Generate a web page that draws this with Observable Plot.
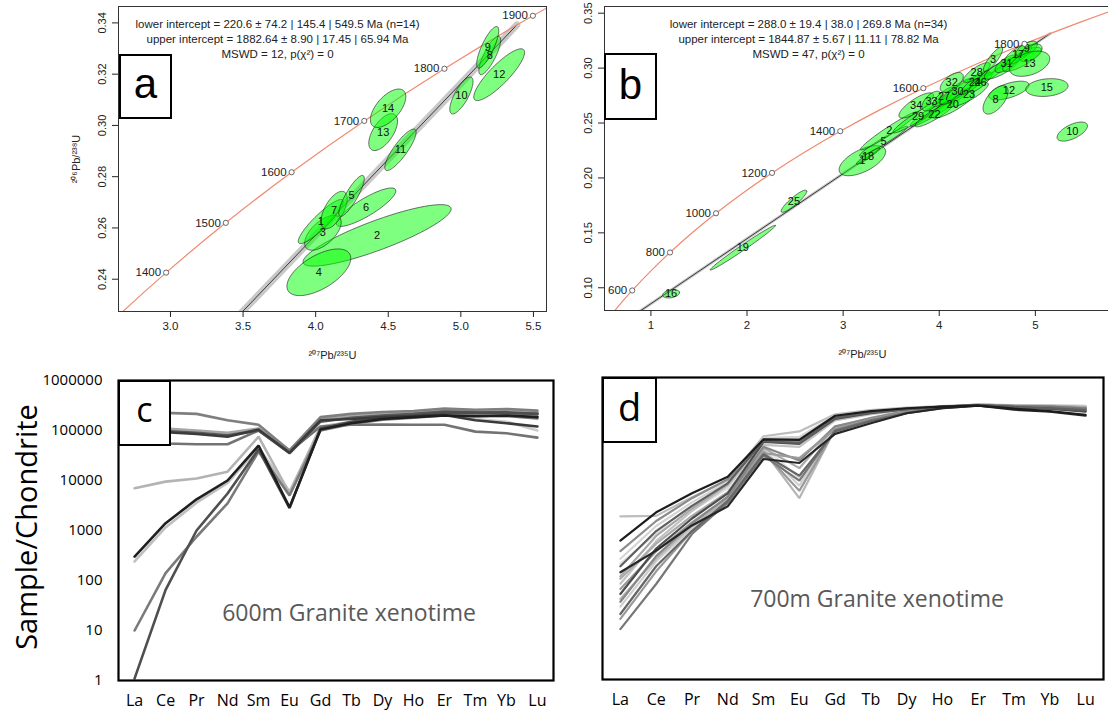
<!DOCTYPE html>
<html><head><meta charset="utf-8">
<script src="https://cdn.jsdelivr.net/npm/d3@7"></script>
<script src="https://cdn.jsdelivr.net/npm/@observablehq/plot@0.6"></script>
<style>
html,body{margin:0;padding:0;background:#fff;width:1108px;height:717px;overflow:hidden;position:relative;}
.panel{position:absolute;overflow:hidden;}
.panel svg{max-width:none !important;}
.tag{position:absolute;box-sizing:border-box;border:2.5px solid #000;background:#fff;display:flex;align-items:center;justify-content:center;color:#000;line-height:1;}
.note{position:absolute;color:#595959;font-family:"Open Sans",sans-serif;font-size:23px;white-space:nowrap;transform:translate(-50%,-50%);}
</style></head><body>
<div id="pa" class="panel" style="left:0;top:0;width:560px;height:368px"></div>
<div id="pb" class="panel" style="left:560px;top:0;width:560px;height:368px"></div>
<div id="pc" class="panel" style="left:0;top:370px;width:560px;height:347px"></div>
<div id="pd" class="panel" style="left:560px;top:370px;width:548px;height:347px"></div>
<div class="tag" style="left:119px;top:54px;width:53px;height:65px;font-family:'Liberation Sans',Arial,sans-serif;font-size:42px;padding-bottom:6px">a</div>
<div class="tag" style="left:604px;top:53px;width:53px;height:67px;font-family:'Liberation Sans',Arial,sans-serif;font-size:42px;padding-bottom:4px">b</div>
<div class="tag" style="left:118px;top:380px;width:53px;height:66px;font-family:'Open Sans',sans-serif;font-size:34px;padding-bottom:8px">c</div>
<div class="tag" style="left:602px;top:377px;width:55px;height:66px;font-family:'Open Sans',sans-serif;font-size:38px;padding-bottom:8px">d</div>
<div class="note" style="left:349px;top:612px">600m Granite xenotime</div>
<div class="note" style="left:877px;top:598px">700m Granite xenotime</div>
<div style="position:absolute;left:25px;top:527px;transform:translate(-50%,-50%) rotate(-90deg);font-family:'Open Sans',sans-serif;font-size:29px;white-space:nowrap;color:#000">Sample/Chondrite</div>
<script>
// ---------- Concordia (U-Pb) data ----------
const concAge = [300, 400, 500, 600, 700, 800, 900, 1000, 1100, 1200, 1300, 1400, 1500, 1600, 1700, 1800, 1900, 2000];
const concX = [0.3437, 0.4828, 0.6363, 0.8056, 0.9925, 1.1987, 1.4263, 1.6774, 1.9545, 2.2603, 2.5977, 2.9701, 3.3810, 3.8343, 4.3348, 4.8869, 5.4962, 6.1685];
const concY = [0.04764, 0.06402, 0.08065, 0.09754, 0.11470, 0.13213, 0.14983, 0.16782, 0.18608, 0.20460, 0.22344, 0.24257, 0.26200, 0.28173, 0.30176, 0.32211, 0.34278, 0.36376];
const aAgeMarks = [1400, 1500, 1600, 1700, 1800, 1900];
const bAgeMarks = [600, 800, 1000, 1200, 1400, 1600, 1800];

// discordia end points (lower and upper intercepts)
const aDiscX = [0.2427, 5.386];
const aDiscY = [0.0348, 0.3392];
const bDiscX = [0.328, 5.153];
const bDiscY = [0.0457, 0.3314];

const aXTicks = [3.0, 3.5, 4.0, 4.5, 5.0, 5.5];
const aYTicks = [0.24, 0.26, 0.28, 0.30, 0.32, 0.34];
const bXTicks = [1, 2, 3, 4, 5];
const bYTicks = [0.10, 0.15, 0.20, 0.25, 0.30, 0.35];

const aNote = "lower intercept = 220.6 ± 74.2 | 145.4 | 549.5 Ma (n=14)\nupper intercept = 1882.64 ± 8.90 | 17.45 | 65.94 Ma\nMSWD = 12, p(χ²) = 0";
const bNote = "lower intercept = 288.0 ± 19.4 | 38.0 | 269.8 Ma (n=34)\nupper intercept = 1844.87 ± 5.67 | 11.11 | 78.82 Ma\nMSWD = 47, p(χ²) = 0";

// error ellipses: [label, 207Pb/235U, 206Pb/238U, sx, sy, rho]
const aEllipses = [
  [2, 4.423, 0.2571, 0.51, 0.0120, 0.86],
  [4, 4.022, 0.2427, 0.22, 0.0091, 0.6],
  [6, 4.347, 0.2681, 0.205, 0.0075, 0.85],
  [3, 4.050, 0.2581, 0.126, 0.0068, 0.6],
  [1, 4.035, 0.2625, 0.155, 0.0086, 0.9],
  [7, 4.127, 0.2670, 0.090, 0.0073, 0.6],
  [5, 4.247, 0.2725, 0.088, 0.0080, 0.85],
  [11, 4.584, 0.2905, 0.108, 0.0081, 0.85],
  [13, 4.465, 0.2974, 0.099, 0.0072, 0.6],
  [14, 4.499, 0.3067, 0.122, 0.0075, 0.6],
  [10, 5.004, 0.3117, 0.080, 0.0072, 0.75],
  [12, 5.264, 0.3198, 0.175, 0.0101, 0.86],
  [8, 5.199, 0.3273, 0.075, 0.0075, 0.8],
  [9, 5.185, 0.3305, 0.076, 0.0081, 0.8]
];
const bEllipses = [
  [16, 1.21, 0.0945, 0.088, 0.0038, 0.3],
  [19, 1.956, 0.1365, 0.34, 0.0204, 0.99],
  [25, 2.488, 0.1788, 0.133, 0.0101, 0.9],
  [1, 3.20, 0.2157, 0.242, 0.0137, 0.6],
  [18, 3.26, 0.2200, 0.12, 0.0075, 0.95],
  [5, 3.42, 0.2335, 0.25, 0.0135, 0.97],
  [2, 3.48, 0.2430, 0.30, 0.0175, 0.97],
  [4, 4.00, 0.2640, 0.30, 0.0170, 0.95],
  [29, 3.78, 0.2560, 0.26, 0.0150, 0.95],
  [22, 3.95, 0.2575, 0.20, 0.0110, 0.9],
  [34, 3.76, 0.2660, 0.18, 0.0115, 0.8],
  [33, 3.92, 0.2700, 0.10, 0.0090, 0.6],
  [27, 4.05, 0.2740, 0.12, 0.0090, 0.8],
  [20, 4.14, 0.2665, 0.22, 0.0120, 0.85],
  [21, 4.25, 0.2820, 0.25, 0.0150, 0.95],
  [30, 4.19, 0.2790, 0.18, 0.0120, 0.85],
  [32, 4.13, 0.2870, 0.12, 0.0090, 0.6],
  [23, 4.31, 0.2760, 0.20, 0.0110, 0.85],
  [24, 4.37, 0.2870, 0.15, 0.0110, 0.9],
  [26, 4.43, 0.2870, 0.12, 0.0090, 0.85],
  [28, 4.39, 0.2960, 0.14, 0.0090, 0.8],
  [6, 4.55, 0.2960, 0.15, 0.0090, 0.85],
  [11, 4.65, 0.3000, 0.18, 0.0100, 0.8],
  [3, 4.56, 0.3080, 0.10, 0.0110, 0.85],
  [31, 4.70, 0.3040, 0.12, 0.0080, 0.7],
  [7, 4.86, 0.3080, 0.20, 0.0110, 0.8],
  [17, 4.82, 0.3125, 0.14, 0.0090, 0.7],
  [9, 4.91, 0.3175, 0.11, 0.0070, 0.6],
  [14, 4.95, 0.3140, 0.12, 0.0080, 0.5],
  [13, 4.94, 0.3040, 0.21, 0.0115, 0.4],
  [12, 4.725, 0.2796, 0.21, 0.0085, 0.6],
  [8, 4.586, 0.2711, 0.13, 0.0130, 0.6],
  [15, 5.12, 0.2823, 0.22, 0.0081, 0.2],
  [10, 5.384, 0.2422, 0.158, 0.0087, 0.6]
];
// labels buried under other ellipses in the reference
const bHiddenLabels = [4, 6, 7, 11, 14, 21];

// ---------- REE chondrite-normalised data ----------
const ree = ["La", "Ce", "Pr", "Nd", "Sm", "Eu", "Gd", "Tb", "Dy", "Ho", "Er", "Tm", "Yb", "Lu"];
const reeYTicks = [1, 10, 100, 1000, 10000, 100000, 1000000];

// 600m granite xenotime
const c01 = [230000, 225000, 215000, 160000, 130000, 40000, 185000, 215000, 235000, 245000, 275000, 260000, 270000, 250000];
const c02 = [115000, 110000, 100000, 90000, 110000, 40000, 170000, 190000, 210000, 220000, 250000, 240000, 245000, 230000];
const c03 = [100000, 92000, 85000, 75000, 105000, 36000, 160000, 170000, 185000, 195000, 205000, 160000, 140000, 120000];
const c04 = [63000, 55000, 53000, 53000, 100000, 38000, 120000, 130000, 132000, 130000, 130000, 95000, 88000, 72000];
const c05 = [110000, 105000, 95000, 85000, 108000, 37000, 175000, 195000, 215000, 225000, 240000, 170000, 150000, 100000];
const c06 = [105000, 98000, 90000, 80000, 100000, 35000, 150000, 180000, 200000, 215000, 240000, 230000, 225000, 215000];
const c07 = [7000, 9500, 11000, 15000, 75000, 5500, 120000, 150000, 180000, 195000, 215000, 200000, 210000, 190000];
const c08 = [300, 1400, 4200, 10000, 50000, 2900, 105000, 140000, 170000, 185000, 200000, 195000, 200000, 185000];
const c09 = [240, 1150, 3600, 9000, 45000, 6000, 110000, 145000, 175000, 190000, 210000, 205000, 205000, 195000];
const c10 = [10, 140, 750, 3500, 38000, 5000, 100000, 135000, 165000, 180000, 200000, 190000, 195000, 175000];
const c11 = [1.1, 65, 1000, 5500, 42000, 2800, 110000, 150000, 185000, 200000, 230000, 225000, 230000, 215000];
const cSeries = [c05, c02, c09, c07, c04, c01, c10, c06, c11, c03, c08];
const cShades = ["#cccccc", "#a6a6a6", "#c0c0c0", "#b3b3b3", "#737373", "#7f7f7f", "#7a7a7a", "#595959", "#4f4f4f", "#3b3b3b", "#1f1f1f"];

// 700m granite xenotime
const d01 = [575, 2100, 5000, 10700, 59000, 57500, 174000, 214000, 245000, 263000, 275000, 240000, 214000, 182000];
const d02 = [1740, 1780, 4200, 9100, 68000, 85000, 186000, 224000, 251000, 269000, 282000, 269000, 263000, 251000];
const d03 = [355, 1410, 4000, 9500, 56000, 52500, 166000, 204000, 240000, 263000, 282000, 263000, 257000, 240000];
const d04 = [250, 1120, 3300, 8500, 63000, 66000, 178000, 214000, 245000, 269000, 288000, 275000, 275000, 263000];
const d05 = [178, 890, 2820, 7900, 55000, 50000, 158000, 200000, 234000, 263000, 282000, 257000, 245000, 224000];
const d06 = [112, 710, 2500, 7600, 60000, 59000, 170000, 209000, 240000, 263000, 282000, 275000, 269000, 257000];
const d07 = [135, 363, 1150, 2750, 24000, 20000, 76000, 123000, 195000, 245000, 275000, 229000, 209000, 174000];
const d08 = [10, 79, 776, 3300, 28000, 8900, 89000, 141000, 200000, 251000, 282000, 269000, 263000, 240000];
const d09 = [40, 250, 1120, 3800, 35500, 4000, 95000, 148000, 209000, 257000, 288000, 275000, 275000, 263000];
const d10 = [63, 355, 1320, 4200, 33000, 5600, 91000, 145000, 204000, 251000, 282000, 263000, 257000, 234000];
const d11 = [28, 224, 1000, 3550, 38000, 7100, 100000, 151000, 214000, 257000, 288000, 282000, 282000, 269000];
const d12 = [20, 178, 890, 3550, 30000, 11200, 85000, 135000, 195000, 245000, 275000, 251000, 240000, 214000];
const d13 = [100, 500, 1780, 5250, 40000, 15800, 105000, 158000, 219000, 263000, 288000, 275000, 269000, 251000];
const d14 = [35, 282, 1260, 4300, 42000, 22400, 107000, 155000, 214000, 257000, 282000, 269000, 263000, 245000];
const d15 = [200, 794, 2240, 6300, 42000, 10000, 100000, 151000, 214000, 263000, 288000, 282000, 282000, 275000];
const d16 = [50, 400, 1580, 5000, 52500, 48000, 151000, 195000, 234000, 263000, 282000, 257000, 240000, 209000];
const d17 = [80, 560, 2240, 7100, 46000, 42000, 141000, 186000, 229000, 263000, 288000, 275000, 269000, 251000];
const d18 = [16, 141, 890, 3160, 31600, 25000, 95000, 148000, 209000, 257000, 282000, 269000, 263000, 240000];
const dSeries = [d02, d04, d11, d15, d09, d17, d06, d13, d03, d10, d14, d18, d08, d12, d16, d05, d07, d01];
const dShades = ["#bdbdbd", "#d4d4d4", "#cfcfcf", "#e0e0e0", "#b5b5b5", "#c2c2c2", "#a8a8a8", "#aaaaaa", "#8c8c8c", "#999999", "#888888", "#9a9a9a", "#777777", "#666666", "#4d4d4d", "#5f5f5f", "#262626", "#1c1c1c"];

// ---------- helpers ----------
const concRows = concAge.map((age, i) => ({age, x: concX[i], y: concY[i]}));
const lineRows = (xs, ys) => xs.map((x, i) => ({x, y: ys[i]}));
function ellipsePolys(rows) {
  const pts = [];
  for (const [id, cx, cy, sx, sy, rho] of rows) {
    const k = Math.sqrt(1 - rho * rho);
    for (let i = 0; i < 72; i++) {
      const t = 2 * Math.PI * i / 72;
      pts.push({id, x: cx + sx * Math.cos(t), y: cy + sy * (rho * Math.cos(t) + k * Math.sin(t))});
    }
  }
  return pts;
}
const f1 = d3.format(".1f"), f2 = d3.format(".2f");

function concordiaPlot({xDomain, yDomain, xTicks, yTicks, xFmt, yFmt, ages, discX, discY, bandWidth, ells, hidden, note, noteDx, width, ml, mr, mb, yTitle}) {
  return Plot.plot({
    width, height: 368,
    marginLeft: ml, marginRight: mr, marginTop: 6, marginBottom: mb,
    x: {domain: xDomain},
    y: {domain: yDomain},
    style: {fontFamily: "'Liberation Sans', Arial, sans-serif", fontSize: "11px", color: "#222", background: "transparent", maxWidth: "none"},
    marks: [
      Plot.line(lineRows(discX, discY), {x: "x", y: "y", stroke: "#c8c8c8", strokeWidth: bandWidth, clip: true}),
      Plot.line(lineRows(discX, discY), {x: "x", y: "y", stroke: "#3a3a3a", strokeWidth: 1, clip: true}),
      Plot.line(concRows, {x: "x", y: "y", curve: "natural", stroke: "#f08a70", strokeWidth: 1.2, clip: true}),
      Plot.line(ellipsePolys(ells), {x: "x", y: "y", z: "id", curve: "linear-closed", fill: "#00ff00", fillOpacity: 0.5, stroke: "#1a1a1a", strokeWidth: 0.6, clip: true}),
      Plot.text(ells.filter(d => !hidden.includes(d[0])), {x: d => d[1], y: d => d[2], text: d => String(d[0]), fontSize: 11, fill: "#111", clip: true}),
      Plot.dot(concRows.filter(r => ages.includes(r.age)), {x: "x", y: "y", r: 2.6, stroke: "#444", strokeWidth: 0.8, fill: "white"}),
      Plot.text(concRows.filter(r => ages.includes(r.age)), {x: "x", y: "y", text: d => String(d.age), textAnchor: "end", dx: -5, fontSize: 11.5, fill: "#222"}),
      Plot.text([note], {frameAnchor: "top", textAnchor: "middle", dx: noteDx, dy: 11, lineAnchor: "top", lineHeight: 1.3, text: d => d, fontSize: 11.5, fill: "#222"}),
      Plot.frame({stroke: "#333", strokeWidth: 1}),
      Plot.axisX({ticks: xTicks, tickFormat: xFmt, tickSize: 6, tickPadding: 4, label: null, fontSize: 11.5}),
      Plot.axisY({ticks: yTicks, tickFormat: () => "", tickSize: 6, label: null}),
      Plot.text(yTicks, {y: d => d, text: d => yFmt(d), frameAnchor: "left", dx: -16, rotate: -90, textAnchor: "middle", lineAnchor: "middle", fontSize: 11}),
      Plot.text(["²⁰⁷Pb/²³⁵U"], {frameAnchor: "bottom", textAnchor: "middle", lineAnchor: "middle", dy: 44, text: d => d, fontSize: 11}),
      ...(yTitle ? [Plot.text(["²⁰⁶Pb/²³⁸U"], {frameAnchor: "left", textAnchor: "middle", lineAnchor: "middle", dx: -42, rotate: -90, text: d => d, fontSize: 11})] : [])
    ]
  });
}

document.getElementById("pa").append(concordiaPlot({
  xDomain: [2.642, 5.590], yDomain: [0.2274, 0.3464], xTicks: aXTicks, yTicks: aYTicks, xFmt: f1, yFmt: f2,
  ages: aAgeMarks, discX: aDiscX, discY: aDiscY, bandWidth: 7, ells: aEllipses, hidden: [], note: aNote, noteDx: -55,
  width: 560, ml: 118, mr: 14, mb: 57, yTitle: true
}));
document.getElementById("pb").append(concordiaPlot({
  xDomain: [0.517, 5.886], yDomain: [0.0793, 0.3561], xTicks: bXTicks, yTicks: bYTicks, xFmt: d3.format("d"), yFmt: f2,
  ages: bAgeMarks, discX: bDiscX, discY: bDiscY, bandWidth: 3, ells: bEllipses, hidden: bHiddenLabels, note: bNote, noteDx: -54,
  width: 560, ml: 44, mr: 0, mb: 58, yTitle: false
}));

function reePlot({series, shades, width, ml, mr, mt, mb, pad, showY, lw}) {
  return Plot.plot({
    width, height: 347,
    marginLeft: ml, marginRight: mr, marginTop: mt, marginBottom: mb,
    x: {type: "point", domain: ree, padding: pad, round: false},
    y: {type: "log", domain: [1, 1000000], axis: null},
    style: {fontFamily: "'Open Sans', sans-serif", fontSize: "16px", color: "#000", background: "transparent", maxWidth: "none"},
    marks: [
      ...series.map((vals, i) => Plot.line(ree, {x: d => d, y: (d, j) => vals[j], stroke: shades[i], strokeWidth: lw, strokeLinejoin: "miter"})),
      Plot.frame({stroke: "#000", strokeWidth: 2.2}),
      Plot.axisX({tickSize: 0, tickPadding: 14, label: null, fontSize: 16}),
      ...(showY ? [Plot.axisY({ticks: reeYTicks, tickFormat: d3.format("d"), tickSize: 0, tickPadding: 16, label: null, fontSize: 15})] : [])
    ]
  });
}
document.getElementById("pc").append(reePlot({series: cSeries, shades: cShades, width: 560, ml: 118, mr: 7, mt: 10, mb: 37, pad: 0.52, showY: true, lw: 2.6}));
document.getElementById("pd").append(reePlot({series: dSeries, shades: dShades, width: 548, ml: 42, mr: 5, mt: 7, mb: 38, pad: 0.5, showY: false, lw: 2.2}));
</script>
</body></html>
